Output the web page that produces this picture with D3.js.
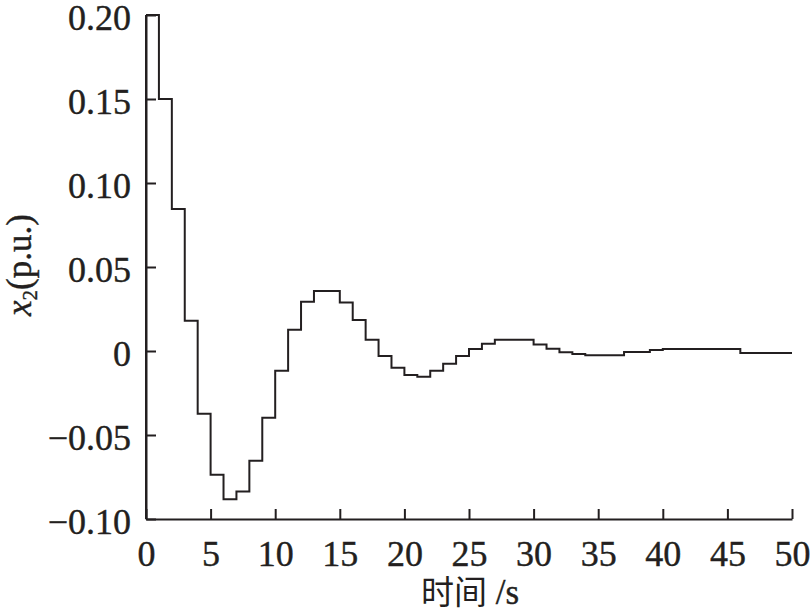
<!DOCTYPE html>
<html><head><meta charset="utf-8">
<script src="https://cdn.jsdelivr.net/npm/d3@7"></script>
<style>body{margin:0;background:#fff}svg{display:block}</style>
</head><body>
<svg id="c" width="812" height="616"></svg>
<script>
// step values, each held on [t, t+1)
const times = d3.range(0, 50);
const values = [
  0.200, 0.150, 0.0845, 0.018, -0.0373, -0.0736, -0.0883, -0.0837, -0.0653, -0.0397,
  -0.0117, 0.0127, 0.0293, 0.0357, 0.0357, 0.0288, 0.0185, 0.0067, -0.003, -0.0099,
  -0.0143, -0.0153, -0.0117, -0.0076, -0.003, 0.0012, 0.0043, 0.0067, 0.0067, 0.0067,
  0.0038, 0.0014, -0.0008, -0.0018, -0.0026, -0.0026, -0.0026, -0.0006, -0.0006, 0.0006,
  0.0012, 0.0012, 0.0012, 0.0012, 0.0012, 0.0012, -0.0012, -0.0012, -0.0012, -0.0012
];
const xTicks = [0, 5, 10, 15, 20, 25, 30, 35, 40, 45, 50];
const yTicks = [-0.10, -0.05, 0, 0.05, 0.10, 0.15, 0.20];
const yTickLabels = ["\u22120.10", "\u22120.05", "0", "0.05", "0.10", "0.15", "0.20"];

const svg = d3.select("#c");
const x = d3.scaleLinear().domain([0, 50]).range([146, 792]);
const y = d3.scaleLinear().domain([-0.10, 0.20]).range([519, 15]);
const font = "'Liberation Serif','Times New Roman',serif";
const ink = "#231f20";

const pts = times.map((t, i) => [t, values[i]]);
pts.push([50, values[values.length - 1]]);
const line = d3.line().x(d => x(d[0])).y(d => y(d[1])).curve(d3.curveStepAfter);
svg.append("path").attr("d", line(pts))
  .attr("fill", "none").attr("stroke", ink).attr("stroke-width", 2);
svg.append("line").attr("x1", x(0)).attr("x2", x(0)).attr("y1", y(values[0])).attr("y2", y(-0.10))
  .attr("stroke", ink).attr("stroke-width", 2);

// axes
const xAxis = svg.append("g").attr("transform", `translate(0,${y(-0.10)})`)
  .call(d3.axisBottom(x).tickValues(xTicks).tickSizeInner(-10).tickSizeOuter(0).tickPadding(21).tickFormat(d3.format("d")));
const yAxis = svg.append("g").attr("transform", `translate(${x(0)},0)`)
  .call(d3.axisLeft(y).tickValues(yTicks).tickSizeInner(-10).tickSizeOuter(0).tickPadding(15)
    .tickFormat((d, i) => yTickLabels[i]));
[xAxis, yAxis].forEach(g => {
  g.select(".domain").attr("stroke", ink).attr("stroke-width", 2);
  g.selectAll(".tick line").attr("stroke", ink).attr("stroke-width", 2);
  g.selectAll(".tick text").attr("fill", ink).attr("stroke", ink).attr("stroke-width", 0.4)
    .style("font-family", font).style("font-size", "36px");
});
yAxis.selectAll(".tick text").attr("dy", "0.4em");

// axis titles
const xt = svg.append("text").attr("x", 470).attr("y", 604).attr("text-anchor", "middle")
  .attr("fill", ink).style("font-size", "33px");
xt.append("tspan").style("font-family", "'Noto Sans CJK SC',sans-serif").text("时间");
xt.append("tspan").style("font-family", font).style("font-size", "35px")
  .attr("stroke", ink).attr("stroke-width", 0.4).text(" /s");

const yt = svg.append("text").attr("transform", "translate(31,265) rotate(-90)").attr("text-anchor", "middle")
  .attr("fill", ink).attr("stroke", ink).attr("stroke-width", 0.4)
  .style("font-family", font).style("font-size", "35px");
yt.append("tspan").style("font-style", "italic").text("x");
yt.append("tspan").attr("dy", 6).style("font-size", "21px").text("2");
yt.append("tspan").attr("dy", -6).text("(p.u.)");
</script>
</body></html>
